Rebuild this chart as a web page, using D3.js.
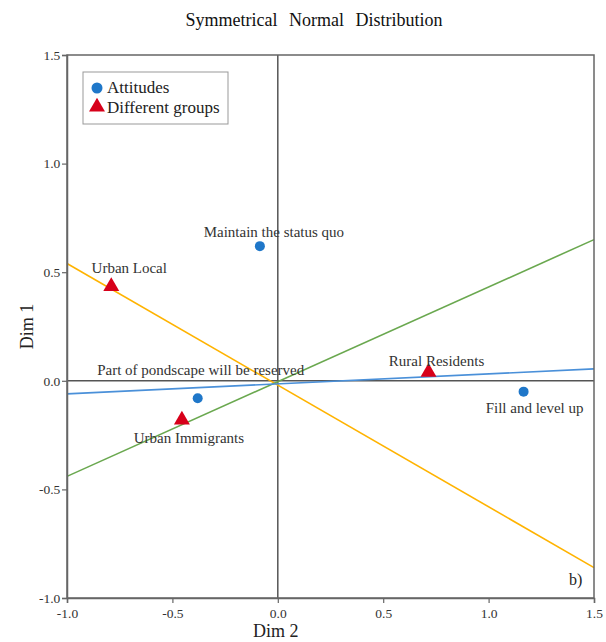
<!DOCTYPE html>
<html>
<head>
<meta charset="utf-8">
<script src="https://cdn.jsdelivr.net/npm/d3@7"></script>
<style>
  body { margin: 0; background: #fff; }
  svg text { font-family: "Liberation Serif", "Times New Roman", serif !important; }
</style>
</head>
<body>
<svg id="chart"></svg>
<script>
// attitudes (circles)
var attitudeNames = ["Maintain the status quo", "Part of pondscape will be reserved", "Fill and level up"];
var attitudeX = [-0.085, -0.38, 1.166];
var attitudeY = [0.62, -0.08, -0.05];

// groups (triangles)
var groupNames = ["Urban Local", "Urban Immigrants", "Rural Residents"];
var groupX = [-0.79, -0.455, 0.715];
var groupY = [0.43, -0.185, 0.035];

// lines through the origin, given by their end values at x = -1.0 and x = 1.5
var lineNames = ["orange", "green", "blue"];
var lineStartY = [0.54, -0.44, -0.06];
var lineEndY = [-0.86, 0.65, 0.055];

var tickValues = [-1.0, -0.5, 0.0, 0.5, 1.0, 1.5];

var svgWidth = 606, svgHeight = 642;
var margin = {top: 55, right: 12, bottom: 44, left: 67};
var width = svgWidth - margin.left - margin.right;
var height = svgHeight - margin.top - margin.bottom;

var svg = d3.select("#chart").attr("width", svgWidth).attr("height", svgHeight);

svg.append("text")
    .attr("x", 314).attr("y", 26)
    .attr("text-anchor", "middle")
    .attr("font-size", 18)
    .attr("fill", "#111")
    .attr("word-spacing", 7)
    .text("Symmetrical Normal Distribution");

var g = svg.append("g").attr("transform", "translate(" + margin.left + "," + margin.top + ")");

var x = d3.scaleLinear().domain([-1.0, 1.5]).range([0, width]);
var y = d3.scaleLinear().domain([-1.0, 1.5]).range([height, 0]);

// reference lines at zero
g.append("line")
    .attr("x1", 0).attr("x2", width)
    .attr("y1", y(0)).attr("y2", y(0))
    .attr("stroke", "#555").attr("stroke-width", 1.5);
g.append("line")
    .attr("x1", x(0)).attr("x2", x(0))
    .attr("y1", 0).attr("y2", height)
    .attr("stroke", "#555").attr("stroke-width", 1.5);

// fitted lines
var lineColors = {orange: "#ffb300", green: "#6aa84f", blue: "#4a90d9"};
lineNames.forEach(function(n, i) {
    g.append("line")
        .attr("x1", x(-1.0)).attr("y1", y(lineStartY[i]))
        .attr("x2", x(1.5)).attr("y2", y(lineEndY[i]))
        .attr("stroke", lineColors[n]).attr("stroke-width", 1.6);
});

// frame
g.append("rect")
    .attr("width", width).attr("height", height)
    .attr("fill", "none").attr("stroke", "#666").attr("stroke-width", 1.5);

var fmt = function(d) { return d3.format(".1f")(d).replace("−", "-"); };

var xAxis = g.append("g")
    .attr("transform", "translate(0," + height + ")")
    .call(d3.axisBottom(x).tickValues(tickValues).tickFormat(fmt).tickSizeOuter(0).tickSize(5));
var yAxis = g.append("g")
    .call(d3.axisLeft(y).tickValues(tickValues).tickFormat(fmt).tickSizeOuter(0).tickSize(5));
[xAxis, yAxis].forEach(function(a) {
    a.attr("font-family", null).attr("font-size", 13.5);
    a.select(".domain").attr("stroke", "#666").attr("stroke-width", 1.5);
    a.selectAll(".tick line").attr("stroke", "#666").attr("stroke-width", 1.2);
    a.selectAll(".tick text").attr("fill", "#333");
});
xAxis.selectAll(".tick text").attr("dy", "0.9em");
yAxis.selectAll(".tick text").attr("dx", "0.1em");

svg.append("text")
    .attr("x", margin.left + x(0) - 2).attr("y", 637)
    .attr("text-anchor", "middle")
    .attr("font-size", 18).attr("fill", "#222")
    .text("Dim 2");
svg.append("text")
    .attr("transform", "translate(33," + (margin.top + y(0.25)) + ") rotate(-90)")
    .attr("text-anchor", "middle")
    .attr("font-size", 18).attr("fill", "#222")
    .text("Dim 1");

// label offsets (px) relative to each mark
var attitudeDx = [14, 3, 11], attitudeDy = [-9, -23, 21];
var groupDx = [18, 7, 8], groupDy = [-14, 22, -7];

var tri = d3.symbol().type(d3.symbolTriangle).size(110);

attitudeNames.forEach(function(n, i) {
    g.append("circle")
        .attr("cx", x(attitudeX[i])).attr("cy", y(attitudeY[i]))
        .attr("r", 5).attr("fill", "#1f77c9");
    g.append("text")
        .attr("x", x(attitudeX[i]) + attitudeDx[i]).attr("y", y(attitudeY[i]) + attitudeDy[i])
        .attr("text-anchor", "middle")
        .attr("font-size", 15).attr("fill", "#333")
        .text(n);
});

groupNames.forEach(function(n, i) {
    g.append("path")
        .attr("d", tri)
        .attr("transform", "translate(" + x(groupX[i]) + "," + (y(groupY[i]) - 1) + ")")
        .attr("fill", "#d7001a");
    g.append("text")
        .attr("x", x(groupX[i]) + groupDx[i]).attr("y", y(groupY[i]) + groupDy[i])
        .attr("text-anchor", "middle")
        .attr("font-size", 15).attr("fill", "#333")
        .text(n);
});

g.append("text")
    .attr("x", width - 25).attr("y", height - 13)
    .attr("font-size", 16).attr("fill", "#222")
    .text("b)");

// legend
var legend = g.append("g").attr("transform", "translate(16,17)");
legend.append("rect")
    .attr("width", 145).attr("height", 52)
    .attr("fill", "#fff").attr("stroke", "#999").attr("stroke-width", 1);
legend.append("circle").attr("cx", 14).attr("cy", 16).attr("r", 5.5).attr("fill", "#1f77c9");
legend.append("text").attr("x", 24).attr("y", 21).attr("font-size", 17).attr("fill", "#222").text("Attitudes");
legend.append("path").attr("d", tri).attr("transform", "translate(14,35)").attr("fill", "#d7001a");
legend.append("text").attr("x", 24).attr("y", 41).attr("font-size", 17).attr("fill", "#222").text("Different groups");
</script>
</body>
</html>
